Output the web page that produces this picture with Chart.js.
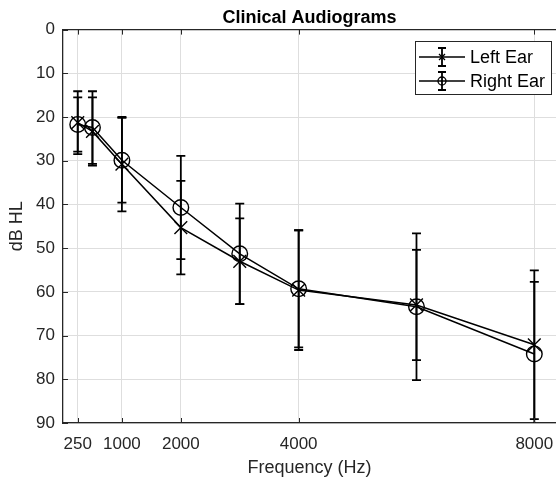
<!DOCTYPE html>
<html><head><meta charset="utf-8">
<script src="https://cdn.jsdelivr.net/npm/chart.js@4.4.1/dist/chart.umd.min.js"></script>
<style>html,body{margin:0;padding:0;background:#fff;}#wrap{width:556px;height:477px;position:relative;}</style>
</head><body><div id="wrap"><canvas id="c" width="556" height="477"></canvas></div>
<script>
const frequencies = [250, 500, 1000, 2000, 3000, 4000, 6000, 8000];
const leftMean  = [21.3, 23.3, 30.8, 45.3, 53.0, 59.6, 63.0, 72.1];
const leftErr   = [7.2, 7.8, 10.8, 10.7, 9.8, 13.7, 12.6, 17.0];
const rightMean = [21.7, 22.4, 29.9, 40.7, 51.3, 59.3, 63.4, 74.2];
const rightErr  = [6.2, 8.3, 9.7, 11.8, 11.5, 13.4, 16.8, 16.5];
const xTickValues = [250, 1000, 2000, 4000, 8000];
const seriesNames = ['Left Ear', 'Right Ear'];

const FONT = "'Liberation Sans', Arial, Helvetica, sans-serif";
const AXC = '#262626';

function pts(means){ return frequencies.map((f,i)=>({x:f, y:means[i]})); }

const errorBarPlugin = {
  id: 'errorBars',
  afterDatasetsDraw(chart){
    const ctx = chart.ctx, xs = chart.scales.x, ys = chart.scales.y, a = chart.chartArea;
    ctx.save();
    ctx.beginPath(); ctx.rect(a.left, a.top, a.right-a.left, a.bottom-a.top); ctx.clip();
    ctx.strokeStyle = '#000'; ctx.lineWidth = 1.8;
    chart.data.datasets.forEach(ds=>{
      ds.data.forEach((p,i)=>{
        const e = ds.errors[i];
        const x = xs.getPixelForValue(p.x);
        const y1 = ys.getPixelForValue(p.y - e), y2 = ys.getPixelForValue(p.y + e);
        ctx.beginPath();
        ctx.moveTo(x, y1); ctx.lineTo(x, y2);
        ctx.moveTo(x-4.5, y1); ctx.lineTo(x+4.5, y1);
        ctx.moveTo(x-4.5, y2); ctx.lineTo(x+4.5, y2);
        ctx.stroke();
      });
    });
    ctx.restore();
  }
};

const framePlugin = {
  id: 'frame',
  afterDraw(chart){
    const ctx = chart.ctx, xs = chart.scales.x, ys = chart.scales.y, a = chart.chartArea;
    ctx.save();
    ctx.strokeStyle = AXC; ctx.lineWidth = 1.3;
    ctx.beginPath(); ctx.moveTo(a.left, a.top); ctx.lineTo(chart.width, a.top); ctx.stroke();
    ctx.lineWidth = 1;
    ctx.beginPath();
    xs.ticks.forEach(t=>{
      const x = Math.round(xs.getPixelForValue(t.value))+0.5;
      ctx.moveTo(x, a.bottom); ctx.lineTo(x, a.bottom-5);
      ctx.moveTo(x, a.top); ctx.lineTo(x, a.top+5);
    });
    ys.ticks.forEach(t=>{
      const y = Math.round(ys.getPixelForValue(t.value))+0.5;
      ctx.moveTo(a.left, y); ctx.lineTo(a.left+5, y);
    });
    ctx.stroke();
    // legend
    const bx = 415.5, by = 41.5, bw = 136, bh = 53;
    ctx.fillStyle = '#fff'; ctx.fillRect(bx, by, bw, bh);
    ctx.strokeStyle = AXC; ctx.lineWidth = 1; ctx.strokeRect(bx, by, bw, bh);
    const rows = [57, 81];
    chart.data.datasets.forEach((ds, k)=>{
      const cy = rows[k];
      ctx.strokeStyle = '#000'; ctx.lineWidth = 1.4;
      ctx.beginPath(); ctx.moveTo(419, cy); ctx.lineTo(465, cy); ctx.stroke();
      ctx.lineWidth = 1.8;
      ctx.beginPath();
      ctx.moveTo(442, cy-9); ctx.lineTo(442, cy+9);
      ctx.moveTo(438, cy-9); ctx.lineTo(446, cy-9);
      ctx.moveTo(438, cy+9); ctx.lineTo(446, cy+9);
      ctx.stroke();
      ctx.lineWidth = 1.3;
      ctx.beginPath();
      if (ds.pointStyle === 'circle') { ctx.arc(442, cy, 4, 0, Math.PI*2); }
      else { ctx.moveTo(439, cy-3); ctx.lineTo(445, cy+3); ctx.moveTo(445, cy-3); ctx.lineTo(439, cy+3); }
      ctx.stroke();
      ctx.fillStyle = '#000'; ctx.font = '18px ' + FONT; ctx.textBaseline = 'middle'; ctx.textAlign = 'left';
      ctx.fillText(ds.label, 470, cy+1);
    });
    ctx.restore();
  }
};

new Chart(document.getElementById('c'), {
  type: 'line',
  data: {
    datasets: [
      { label: seriesNames[0], data: pts(leftMean), errors: leftErr, borderColor: '#000', borderWidth: 1.5,
        pointStyle: 'crossRot', pointRadius: 9, pointBorderColor: '#000', pointBorderWidth: 1.4,
        pointBackgroundColor: 'rgba(0,0,0,0)', fill: false, tension: 0 },
      { label: seriesNames[1], data: pts(rightMean), errors: rightErr, borderColor: '#000', borderWidth: 1.5,
        pointStyle: 'circle', pointRadius: 7.8, pointBorderColor: '#000', pointBorderWidth: 1.4,
        pointBackgroundColor: 'rgba(0,0,0,0)', fill: false, tension: 0 }
    ]
  },
  options: {
    responsive: false, animation: false, devicePixelRatio: 1,
    layout: { autoPadding: false, padding: { left: 0, right: 0, top: 0, bottom: 0 } },
    plugins: {
      legend: { display: false },
      tooltip: { enabled: false },
      title: { display: true, fullSize: false, text: 'Clinical Audiograms', color: '#000',
        font: { family: FONT, size: 18, weight: 'bold', lineHeight: 1.2 }, padding: { top: 7, bottom: 1 } }
    },
    scales: {
      x: {
        type: 'linear', min: 0, max: 8368, offset: false,
        afterBuildTicks: s => { s.ticks = xTickValues.map(v => ({ value: v })); },
        afterFit: s => { s.height = 54; s.paddingLeft = 0; s.paddingRight = 0; },
        grid: { color: '#dedede', lineWidth: 1, drawTicks: false },
        border: { color: AXC, width: 1.3 },
        ticks: { autoSkip: false, maxRotation: 0, color: AXC, padding: 11, font: { family: FONT, size: 17 },
          callback: v => String(v) },
        title: { display: true, text: 'Frequency (Hz)', color: AXC, font: { family: FONT, size: 18, lineHeight: 1 }, padding: { top: 0, bottom: 0 } }
      },
      y: {
        type: 'linear', reverse: true, min: 0, max: 90,
        afterFit: s => { s.width = 63; s.paddingTop = 0; s.paddingBottom = 0; },
        grid: { color: '#dedede', lineWidth: 1, drawTicks: false },
        border: { color: AXC, width: 1.3 },
        ticks: { stepSize: 10, color: AXC, padding: 8, font: { family: FONT, size: 17 } },
        title: { display: true, text: 'dB HL', color: AXC, font: { family: FONT, size: 18, lineHeight: 1 }, padding: { top: 8, bottom: 0 } }
      }
    }
  },
  plugins: [errorBarPlugin, framePlugin]
});
</script></body></html>
